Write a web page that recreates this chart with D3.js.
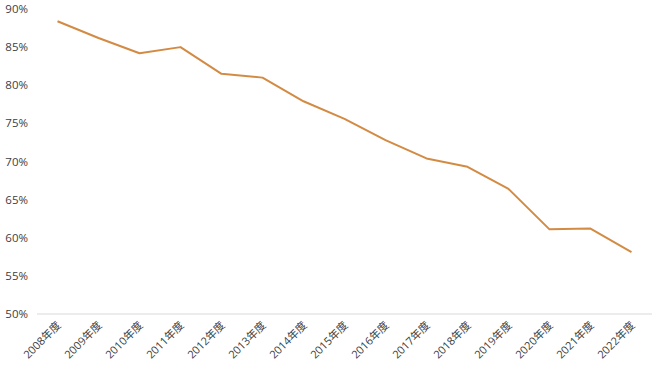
<!DOCTYPE html>
<html>
<head>
<meta charset="utf-8">
<script src="https://cdn.jsdelivr.net/npm/d3@7"></script>
<style>
  body { margin: 0; background: #fff; }
  svg text { font-family: "Open Sans", "Noto Sans CJK JP", sans-serif; fill: #404040; }
</style>
</head>
<body>
<svg id="chart" width="660" height="371"></svg>
<script>
// fiscal years and share (%)
var years = ["2008年度","2009年度","2010年度","2011年度","2012年度","2013年度","2014年度",
             "2015年度","2016年度","2017年度","2018年度","2019年度","2020年度","2021年度","2022年度"];
var values = [88.4, 86.2, 84.2, 85.0, 81.5, 81.0, 77.9, 75.6, 72.8, 70.4, 69.3, 66.4, 61.1, 61.2, 58.1];
var yTicks = [50, 55, 60, 65, 70, 75, 80, 85, 90];

var svg = d3.select("#chart"),
    margin = {left: 37, right: 8, top: 9, bottom: 57},
    width = +svg.attr("width") - margin.left - margin.right,
    height = +svg.attr("height") - margin.top - margin.bottom;

var g = svg.append("g").attr("transform", "translate(" + margin.left + "," + margin.top + ")");

var x = d3.scaleBand().domain(years).range([0, width]);
var y = d3.scaleLinear().domain([50, 90]).range([height, 0]);

// y labels
g.selectAll(".ylab")
  .data(yTicks)
  .enter().append("text")
    .attr("class", "ylab")
    .attr("x", -9)
    .attr("y", function(d) { return y(d); })
    .attr("dy", "0.35em")
    .attr("text-anchor", "end")
    .style("font-size", "11.5px")
    .text(function(d) { return d + "%"; });

// baseline
g.append("line")
  .attr("x1", 0).attr("x2", width)
  .attr("y1", y(50)).attr("y2", y(50))
  .attr("stroke", "#d9d9d9")
  .attr("stroke-width", 1);

// x labels, rotated
g.selectAll(".xlab")
  .data(years)
  .enter().append("text")
    .attr("class", "xlab")
    .attr("text-anchor", "end")
    .style("font-size", "11px")
    .attr("transform", function(d) {
      return "translate(" + (x(d) + x.bandwidth() / 2 + 4) + "," + (y(50) + 12) + ") rotate(-45)";
    })
    .text(function(d) { return d; });

var line = d3.line()
  .x(function(d, i) { return x(years[i]) + x.bandwidth() / 2; })
  .y(function(d) { return y(d); });

g.append("path")
  .datum(values)
  .attr("fill", "none")
  .attr("stroke", "#d38b44")
  .attr("stroke-width", 2)
  .attr("stroke-linejoin", "round")
  .attr("d", line);
</script>
</body>
</html>
